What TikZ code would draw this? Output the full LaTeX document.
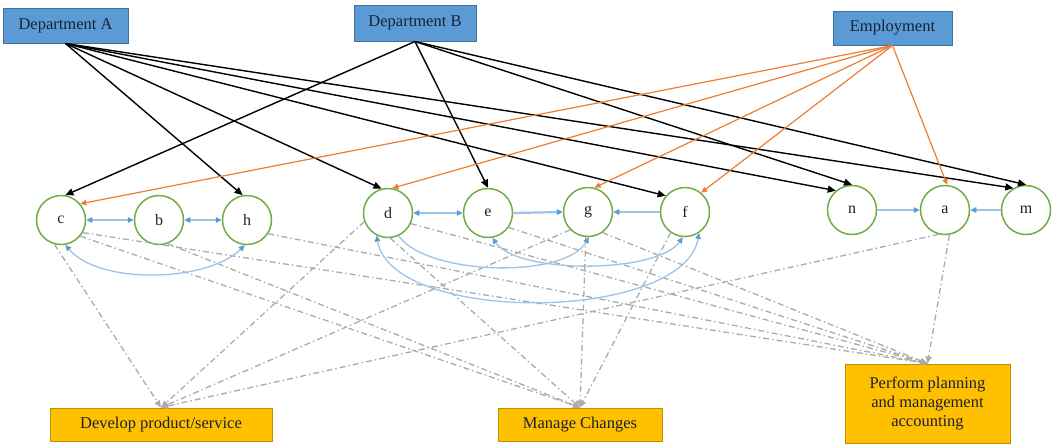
\documentclass[tikz,border=0pt]{standalone}
\usepackage{fontspec}
\setmainfont{Liberation Serif}
\usetikzlibrary{arrows.meta}
\definecolor{boxblue}{HTML}{5B9BD5}
\definecolor{boxblueedge}{HTML}{41719C}
\definecolor{gold}{HTML}{FFC000}
\definecolor{goldedge}{HTML}{BF9000}
\definecolor{cgreen}{HTML}{70AD47}
\definecolor{corange}{HTML}{ED7D31}
\definecolor{lblue}{HTML}{9DC3E6}
\definecolor{dblue}{HTML}{5B9BD5}
\definecolor{cgrey}{HTML}{ABABAB}
\definecolor{txt}{HTML}{1C2033}
\begin{document}
\begin{tikzpicture}[x=1pt,y=1pt,
  dept/.style={draw=boxblueedge, fill=boxblue, line width=1pt, inner sep=0pt,
    font=\fontsize{16.5}{19}\selectfont, text=txt},
  task/.style={draw=goldedge, fill=gold, line width=1pt, inner sep=0pt, align=center,
    font=\fontsize{16.5}{19}\selectfont, text=txt},
  act/.style={circle, draw=cgreen, line width=1.5pt, minimum size=49pt, inner sep=0pt,
    fill=white, font=\fontsize{16}{18}\selectfont, text=txt},
  blk/.style={draw=black, line width=1.4pt, -{Triangle[length=8pt,width=7pt]}},
  org/.style={draw=corange, line width=1.2pt, -{Triangle[length=6pt,width=5.5pt]}},
  btip/.tip={Triangle[length=6pt,width=5.5pt,color=dblue]},
  lnk/.style={draw=lblue, line width=1.3pt, -btip},
  lnkb/.style={draw=lblue, line width=1.3pt, btip-btip},
  dd/.style={draw=cgrey, line width=1.3pt, dash pattern=on 6pt off 3pt on 1.5pt off 3pt,
    -{Triangle[length=7pt,width=6pt,color=cgrey]}},
]
\useasboundingbox (0,0) rectangle (1056,-445);

% boxes
\node[dept, minimum width=125pt, minimum height=35pt] (A) at (65.5,-25.5) {Department A};
\node[dept, minimum width=122pt, minimum height=36pt] (B) at (415,-23) {Department B};
\node[dept, minimum width=119pt, minimum height=34pt] (E) at (892.5,-28) {Employment};
\node[task, minimum width=222pt, minimum height=33pt] (D) at (161,-424.5) {Develop product/service};
\node[task, minimum width=164pt, minimum height=33pt] (M) at (580,-424.5) {Manage Changes};
\node[task, minimum width=165pt, minimum height=79pt] (P) at (927.5,-403.5) {Perform planning\\and management\\accounting};

% activity circles
\node[act] (c) at (61,-220) {c};
\node[act] (b) at (159,-220) {b};
\node[act] (h) at (247,-220) {h};
\node[act] (d) at (388,-213) {d};
\node[act] (e) at (488,-213) {e};
\node[act] (g) at (588,-212) {g};
\node[act] (f) at (685,-212) {f};
\node[act] (n) at (852,-210) {n};
\node[act] (a) at (945,-210) {a};
\node[act] (m) at (1026,-210) {m};

% grey dash-dot links to tasks
\draw[dd] (c.-105) -- (D.north);
\draw[dd] (c.-40) -- (M.north);
\draw[dd] (c.-30) -- (P.north);
\draw[dd] (b.-70) -- (M.north);
\draw[dd] (h.-33) -- (P.north);
\draw[dd] (d.-160) -- (D.north);
\draw[dd] (d.-85) -- (M.north);
\draw[dd] (d.-25) -- (P.north);
\draw[dd] (e.-35) -- (P.north);
\draw[dd] (g.-135) -- (D.north);
\draw[dd] (g.-95) -- (M.north);
\draw[dd] (g.-55) -- (P.north);
\draw[dd] (f.-125) -- (M.north);
\draw[dd] (a.-105) -- (D.north);
\draw[dd] (a.-80) -- (P.north);

% blue links between activities
\draw[lnkb] (c.east) -- (b.west);
\draw[lnkb] (b.east) -- (h.west);
\draw[lnkb] (d.east) -- (e.west);
\draw[lnk, line width=2.2pt] (e.east) -- (g.west);
\draw[lnk] (f.west) -- (g.east);
\draw[lnk] (n.east) -- (a.west);
\draw[lnk] (m.west) -- (a.east);
\draw[lnkb] (c.-80) to[out=-50,in=-135,looseness=0.75] (h.-95);
\draw[lnkb] (d.-117) to[out=-80,in=-100,looseness=0.72] (f.-56);
\draw[lnk] (d.-65) to[out=-55,in=-120,looseness=0.65] (g.-88);
\draw[lnkb] (e.-80) to[out=-55,in=-125,looseness=0.6] (f.-95);

% department links
\draw[blk] (A.south) -- (h.100);
\draw[blk] (A.south) -- (d.105);
\draw[blk] (A.south) -- (f.140);
\draw[blk] (A.south) -- (n.130);
\draw[blk] (A.south) -- (m.120);
\draw[blk] (B.south) -- (c.80);
\draw[blk] (B.south) -- (e.90);
\draw[blk] (B.south) -- (n.90);
\draw[blk] (B.south) -- (m.90);

% employment links
\draw[org] (E.south) -- (c.40);
\draw[org] (E.south) -- (d.80);
\draw[org] (E.south) -- (g.75);
\draw[org] (E.south) -- (f.50);
\draw[org] (E.south) -- (a.85);
\end{tikzpicture}
\end{document}
